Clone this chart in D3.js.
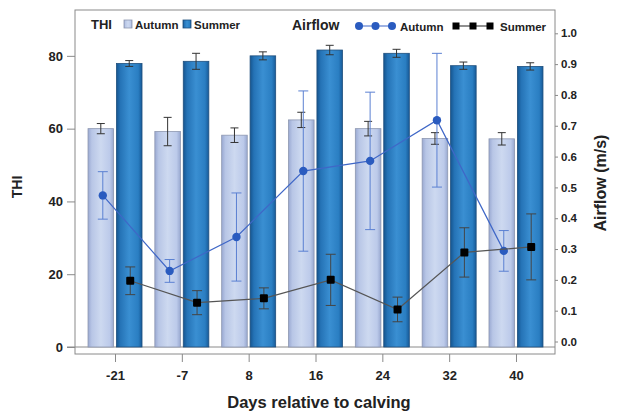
<!DOCTYPE html>
<html>
<head>
<meta charset="utf-8">
<script src="https://cdn.jsdelivr.net/npm/d3@7"></script>
<style>
  html, body { margin: 0; padding: 0; background: #fff; }
  svg { display: block; font-family: "Liberation Sans", Arial, sans-serif; }
</style>
</head>
<body>
<svg id="chart" width="617" height="412"></svg>
<script>
// ---- data ----
const days = ["-21", "-7", "8", "16", "24", "32", "40"];
const seasons = ["Autumn", "Summer"];
const thiAutumn = [60.0, 59.2, 58.2, 62.4, 60.0, 57.3, 57.2];
const thiAutumnErr = [1.4, 3.9, 2.0, 2.1, 2.0, 1.6, 1.7];
const thiSummer = [77.9, 78.5, 80.0, 81.6, 80.7, 77.3, 77.1];
const thiSummerErr = [0.8, 2.2, 1.1, 1.3, 1.1, 1.0, 1.0];
const airAutumn = [0.474, 0.229, 0.339, 0.553, 0.586, 0.718, 0.294];
const airAutumnErr = [0.077, 0.037, 0.143, 0.26, 0.223, 0.217, 0.066];
const airSummer = [0.197, 0.126, 0.140, 0.200, 0.104, 0.289, 0.307];
const airSummerErr = [0.045, 0.039, 0.034, 0.083, 0.040, 0.080, 0.107];
const thiTicks = [0, 20, 40, 60, 80];
const airTicks = [0, 0.1, 0.2, 0.3, 0.4, 0.5, 0.6, 0.7, 0.8, 0.9, 1.0];

// ---- layout ----
const svg = d3.select("#chart");
const frame = { left: 75, top: 10, right: 555, bottom: 354 };
const yThi = d3.scaleLinear().domain([0, 92.6]).range([347, 10]);
const yAir = d3.scaleLinear().domain([0, 1]).range([341.5, 33.3]);
const x0 = d3.scaleBand().domain(days).range([81.6, 549.4]).padding(0);
const x1 = d3.scaleBand().domain(seasons)
  .range([x0.bandwidth() / 2 - 27, x0.bandwidth() / 2 + 27]).paddingInner(0.1);

// gradients
const defs = svg.append("defs");
function grad(id, stops) {
  const g = defs.append("linearGradient").attr("id", id)
    .attr("x1", "0%").attr("x2", "100%").attr("y1", "0%").attr("y2", "0%");
  stops.forEach(s => g.append("stop").attr("offset", s[0]).attr("stop-color", s[1]));
}
grad("gA", [["0%", "#9aa9d2"], ["15%", "#b8c6e6"], ["50%", "#cdd9f0"], ["85%", "#bccaea"], ["100%", "#98a8d0"]]);
grad("gS", [["0%", "#15558f"], ["15%", "#2573b6"], ["50%", "#3a8fd2"], ["85%", "#2a7ec2"], ["100%", "#175a98"]]);

// frame
svg.append("rect")
  .attr("x", frame.left).attr("y", frame.top)
  .attr("width", frame.right - frame.left).attr("height", frame.bottom - frame.top)
  .attr("fill", "none").attr("stroke", "#8a8a8a").attr("stroke-width", 1);

// zero line
svg.append("line").attr("x1", 67).attr("x2", frame.right)
  .attr("y1", yThi(0)).attr("y2", yThi(0))
  .attr("stroke", "#8a8a8a").attr("stroke-width", 1);

// bars
const groups = svg.append("g").selectAll("g").data(days).join("g")
  .attr("transform", d => `translate(${x0(d)},0)`);

const barData = (i) => [
  { s: "Autumn", v: thiAutumn[i], e: thiAutumnErr[i] },
  { s: "Summer", v: thiSummer[i], e: thiSummerErr[i] }
];

groups.each(function (d, i) {
  const g = d3.select(this);
  const bd = barData(i);
  g.selectAll("rect").data(bd).join("rect")
    .attr("x", b => x1(b.s))
    .attr("width", x1.bandwidth())
    .attr("y", b => yThi(b.v))
    .attr("height", b => yThi(0) - yThi(b.v))
    .attr("fill", b => b.s === "Autumn" ? "url(#gA)" : "url(#gS)")
    .attr("stroke", b => b.s === "Autumn" ? "#8d97b0" : "#1f4f7d")
    .attr("stroke-width", 0.8);
  // error bars
  bd.forEach(b => {
    const cx = x1(b.s) + x1.bandwidth() / 2;
    const e = g.append("g").attr("stroke", "#333").attr("stroke-width", 1);
    e.append("line").attr("x1", cx).attr("x2", cx).attr("y1", yThi(b.v + b.e)).attr("y2", yThi(b.v - b.e));
    e.append("line").attr("x1", cx - 4).attr("x2", cx + 4).attr("y1", yThi(b.v + b.e)).attr("y2", yThi(b.v + b.e));
    e.append("line").attr("x1", cx - 4).attr("x2", cx + 4).attr("y1", yThi(b.v - b.e)).attr("y2", yThi(b.v - b.e));
  });
});

// airflow lines
const px = (d, s) => x0(d) + x1(s) + x1.bandwidth() / 2 + (s === "Autumn" ? 2 : 1);

function drawSeries(vals, errs, season, lineColor, errColor, marker) {
  const pts = days.map((d, i) => ({ x: px(d, season), v: vals[i], e: errs[i] }));
  const g = svg.append("g");
  // error bars
  pts.forEach(p => {
    const e = g.append("g").attr("stroke", errColor).attr("stroke-width", 1);
    e.append("line").attr("x1", p.x).attr("x2", p.x).attr("y1", yAir(p.v + p.e)).attr("y2", yAir(p.v - p.e));
    e.append("line").attr("x1", p.x - 5).attr("x2", p.x + 5).attr("y1", yAir(p.v + p.e)).attr("y2", yAir(p.v + p.e));
    e.append("line").attr("x1", p.x - 5).attr("x2", p.x + 5).attr("y1", yAir(p.v - p.e)).attr("y2", yAir(p.v - p.e));
  });
  g.append("path").datum(pts)
    .attr("d", d3.line().x(p => p.x).y(p => yAir(p.v)))
    .attr("fill", "none").attr("stroke", lineColor).attr("stroke-width", 1.2);
  if (marker === "circle") {
    g.selectAll("circle").data(pts).join("circle")
      .attr("cx", p => p.x).attr("cy", p => yAir(p.v)).attr("r", 4.2)
      .attr("fill", "#2a5bbf");
  } else {
    g.selectAll("rect.m").data(pts).join("rect").attr("class", "m")
      .attr("x", p => p.x - 4).attr("y", p => yAir(p.v) - 4)
      .attr("width", 8).attr("height", 8).attr("rx", 1)
      .attr("fill", "#000");
  }
}
drawSeries(airAutumn, airAutumnErr, "Autumn", "#3f67c7", "#5b80d2", "circle");
drawSeries(airSummer, airSummerErr, "Summer", "#555", "#444", "square");

// left axis
const leftAxis = d3.axisLeft(yThi).tickValues(thiTicks).tickSize(8).tickPadding(4).tickFormat(d3.format("d"));
const la = svg.append("g").attr("transform", `translate(${frame.left},0)`).call(leftAxis);
la.select(".domain").remove();
la.selectAll(".tick line").attr("stroke", "#8a8a8a");
la.selectAll(".tick text").attr("font-size", 13).attr("font-weight", "bold").attr("fill", "#222")
  .attr("font-family", "Liberation Sans, Arial, sans-serif");

// right axis
const rightAxis = d3.axisRight(yAir).tickValues(airTicks).tickSize(3).tickPadding(3).tickFormat(d3.format(".1f"));
const ra = svg.append("g").attr("transform", `translate(${frame.right},0)`).call(rightAxis);
ra.select(".domain").remove();
ra.selectAll(".tick line").attr("stroke", "#8a8a8a");
ra.selectAll(".tick text").attr("font-size", 11.5).attr("font-weight", "bold").attr("fill", "#222")
  .attr("font-family", "Liberation Sans, Arial, sans-serif");

// bottom axis
const xCenter = d3.scalePoint().domain(days).range([x0(days[0]) + x0.bandwidth() / 2, x0(days[days.length - 1]) + x0.bandwidth() / 2]);
const bottomAxis = d3.axisBottom(xCenter).tickSize(8).tickPadding(9);
const ba = svg.append("g").attr("transform", `translate(0,${frame.bottom})`).call(bottomAxis);
ba.select(".domain").remove();
ba.selectAll(".tick line").attr("stroke", "#8a8a8a");
ba.selectAll(".tick text").attr("font-size", 13).attr("font-weight", "bold").attr("fill", "#222")
  .attr("font-family", "Liberation Sans, Arial, sans-serif");

// axis titles
svg.append("text").attr("transform", "translate(22,187) rotate(-90)")
  .attr("text-anchor", "middle").attr("font-size", 14).attr("font-weight", "bold").attr("fill", "#222")
  .text("THI");
svg.append("text").attr("transform", "translate(606,183) rotate(-90)")
  .attr("text-anchor", "middle").attr("font-size", 16).attr("font-weight", "bold").attr("fill", "#222")
  .text("Airflow (m/s)");
svg.append("text").attr("x", 319).attr("y", 408)
  .attr("text-anchor", "middle").attr("font-size", 16.5).attr("font-weight", "bold").attr("fill", "#222")
  .text("Days relative to calving");

// legend
const lg = svg.append("g").attr("font-weight", "bold").attr("fill", "#222");
lg.append("text").attr("x", 91).attr("y", 29).attr("font-size", 13).text("THI");
lg.append("rect").attr("x", 124).attr("y", 20).attr("width", 8).attr("height", 8)
  .attr("fill", "url(#gA)").attr("stroke", "#8d97b0").attr("stroke-width", 0.8);
lg.append("text").attr("x", 135).attr("y", 28.5).attr("font-size", 11.5).text("Autumn");
lg.append("rect").attr("x", 183).attr("y", 20).attr("width", 8).attr("height", 8)
  .attr("fill", "url(#gS)").attr("stroke", "#1f4f7d").attr("stroke-width", 0.8);
lg.append("text").attr("x", 194).attr("y", 28.5).attr("font-size", 11.5).text("Summer");
lg.append("text").attr("x", 292).attr("y", 30).attr("font-size", 14).text("Airflow");
const legX = [359, 375.5, 392];
lg.append("line").attr("x1", legX[0]).attr("x2", legX[2]).attr("y1", 26).attr("y2", 26)
  .attr("stroke", "#3f67c7").attr("stroke-width", 1.2);
lg.selectAll("circle.l").data(legX).join("circle").attr("class", "l")
  .attr("cx", d => d).attr("cy", 26).attr("r", 4).attr("fill", "#2a5bbf");
lg.append("text").attr("x", 400).attr("y", 30.5).attr("font-size", 11.5).text("Autumn");
const legS = [456, 473, 490];
lg.append("line").attr("x1", legS[0]).attr("x2", legS[2]).attr("y1", 26).attr("y2", 26)
  .attr("stroke", "#222").attr("stroke-width", 1.2);
lg.selectAll("rect.l").data(legS).join("rect").attr("class", "l")
  .attr("x", d => d - 3.5).attr("y", 22.5).attr("width", 7).attr("height", 7).attr("fill", "#000");
lg.append("text").attr("x", 500).attr("y", 30.5).attr("font-size", 11.5).text("Summer");
</script>
</body>
</html>
